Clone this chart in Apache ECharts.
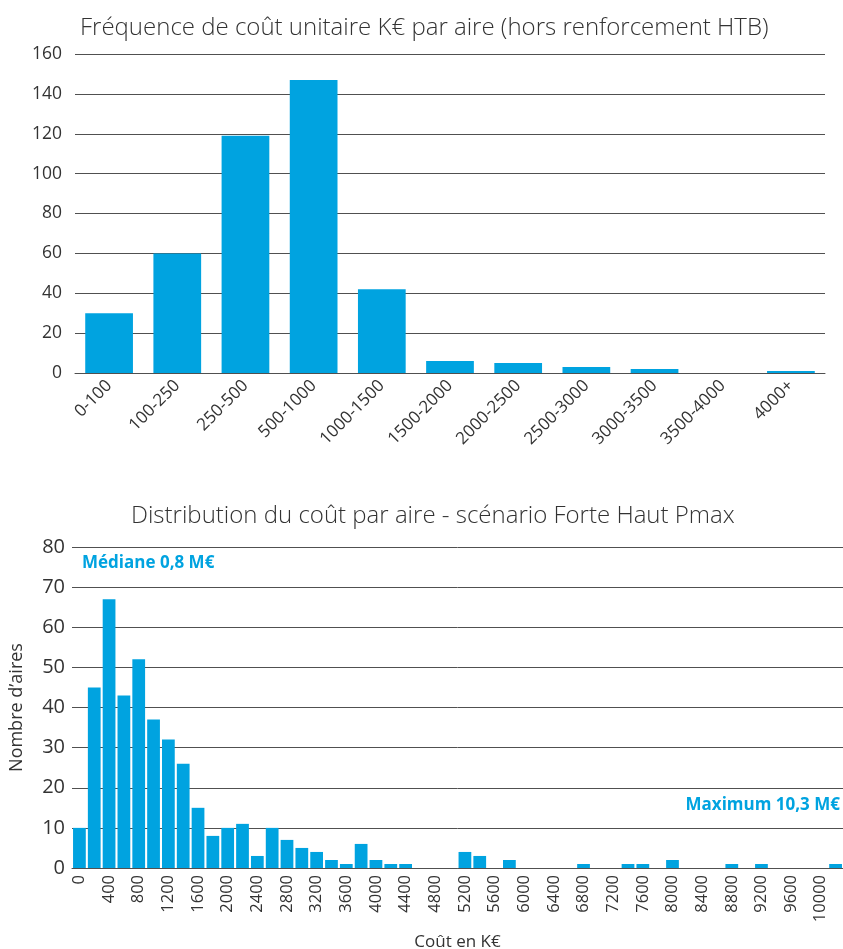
<!DOCTYPE html>
<html>
<head>
<meta charset="utf-8">
<script src="https://cdn.jsdelivr.net/npm/echarts@6/dist/echarts.min.js"></script>
<style>
html,body{margin:0;padding:0;background:#fff;}
#chart{width:843px;height:949px;}
</style>
</head>
<body>
<div id="chart"></div>
<script>
// ---- Data ----
const topTitle = "Fréquence de coût unitaire K€ par aire (hors renforcement HTB)";
const topCategories = ["0-100","100-250","250-500","500-1000","1000-1500","1500-2000","2000-2500","2500-3000","3000-3500","3500-4000","4000+"];
const topValues = [30, 60, 119, 147, 42, 6, 5, 3, 2, 0, 1];

const bottomTitle = "Distribution du coût par aire - scénario Forte Haut Pmax";
const bottomCategories = [];
for (let c = 0; c <= 10200; c += 200) bottomCategories.push(String(c));
const bottomValues = [
  10, 45, 67, 43, 52, 37, 32, 26, 15, 8,
  10, 11, 3, 10, 7, 5, 4, 2, 1, 6,
  2, 1, 1, 0, 0, 0, 4, 3, 0, 2,
  0, 0, 0, 0, 1, 0, 0, 1, 1, 0,
  2, 0, 0, 0, 1, 0, 1, 0, 0, 0,
  0, 1
];
const medianLabel = "Médiane 0,8 M€";
const maxLabel = "Maximum 10,3 M€";
const yNameBottom = "Nombre d’aires";
const xNameBottom = "Coût en K€";

// ---- Chart ----
const FONT = "Open Sans";
const BLUE = "#00A3E0";
const TXT = "#333333";
const GRID = "#505050";

const chart = echarts.init(document.getElementById('chart'), null, {renderer: 'canvas'});
chart.setOption({
  backgroundColor: '#ffffff',
  animation: false,
  textStyle: {fontFamily: FONT},
  title: [
    {text: topTitle, left: 75, top: 11,
     textStyle: {fontFamily: FONT, fontSize: 24, fontWeight: 300, color: TXT}},
    {text: bottomTitle, left: 126, top: 499,
     textStyle: {fontFamily: FONT, fontSize: 24, fontWeight: 300, color: TXT}}
  ],
  graphic: [
    {type: 'text', left: 82, top: 555,
     style: {text: medianLabel, fill: BLUE, font: 'bold 17px "Open Sans"'}},
    {type: 'text', right: 3, top: 797,
     style: {text: maxLabel, fill: BLUE, font: 'bold 17px "Open Sans"'}}
  ],
  grid: [
    {left: 75, right: 18, top: 54, height: 319, containLabel: false, outerBoundsMode: 'none'},
    {left: 72, right: 0, top: 547, height: 321, containLabel: false, outerBoundsMode: 'none'}
  ],
  xAxis: [
    {type: 'category', gridIndex: 0, data: topCategories,
     axisLine: {lineStyle: {color: GRID, width: 1}},
     axisTick: {show: false},
     axisLabel: {rotate: 45, interval: 0, fontSize: 17, color: TXT, fontFamily: FONT, margin: 10}},
    {type: 'category', gridIndex: 1, data: bottomCategories,
     name: xNameBottom, nameLocation: 'middle', nameGap: 66,
     nameTextStyle: {fontSize: 17, color: TXT, fontFamily: FONT},
     axisLine: {lineStyle: {color: GRID, width: 1}},
     axisTick: {show: false},
     axisLabel: {rotate: 90, interval: 1, fontSize: 16.5, color: TXT, fontFamily: FONT, margin: 7}},
  ],
  yAxis: [
    {type: 'value', gridIndex: 0, min: 0, max: 160, interval: 20,
     axisLine: {show: false}, axisTick: {show: false},
     axisLabel: {fontSize: 17.5, color: TXT, fontFamily: FONT, margin: 13},
     splitLine: {lineStyle: {color: GRID, width: 1}}},
    {type: 'value', gridIndex: 1, min: 0, max: 80, interval: 10,
     name: yNameBottom, nameLocation: 'middle', nameGap: 46,
     nameTextStyle: {fontSize: 18, color: TXT, fontFamily: FONT},
     axisLine: {show: false}, axisTick: {show: false},
     axisLabel: {fontSize: 20, color: TXT, fontFamily: FONT, margin: 7},
     splitLine: {lineStyle: {color: GRID, width: 1}}}
  ],
  series: [
    {type: 'bar', xAxisIndex: 0, yAxisIndex: 0, data: topValues,
     barCategoryGap: '30%',
     itemStyle: {color: BLUE}},
    {type: 'bar', xAxisIndex: 1, yAxisIndex: 1, data: bottomValues,
     barCategoryGap: '14%',
     itemStyle: {color: BLUE}}
  ]
});
</script>
</body>
</html>
